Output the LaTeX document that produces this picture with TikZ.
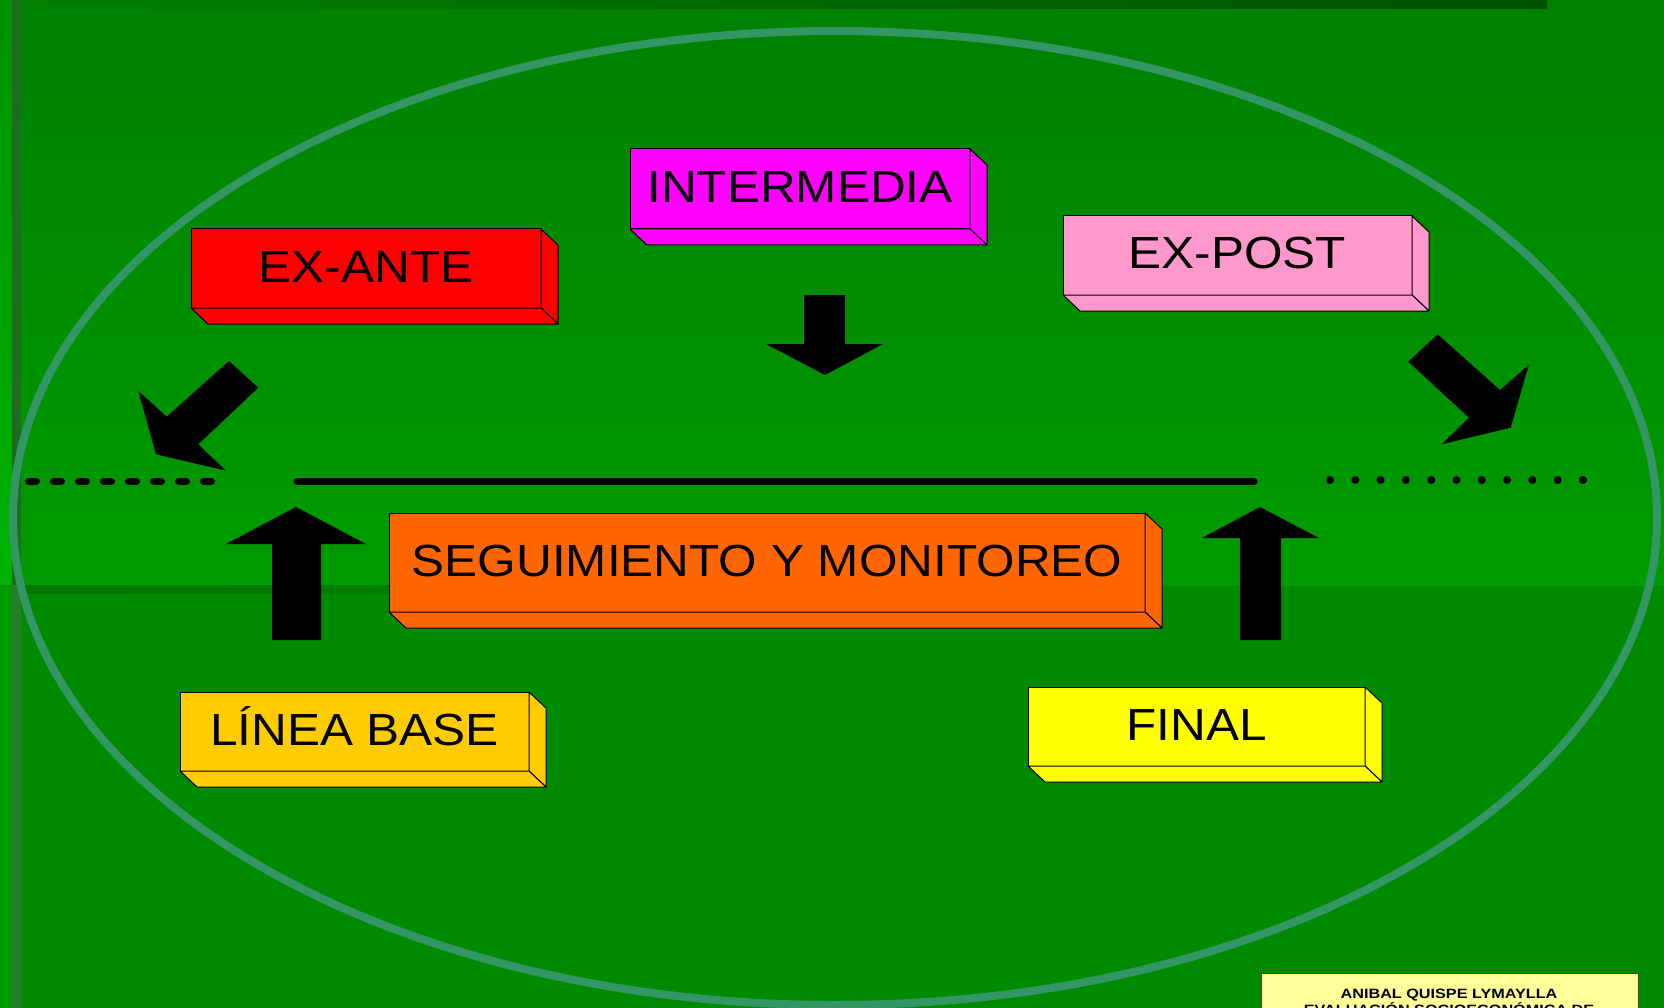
\documentclass[tikz,border=0pt]{standalone}
\usepackage{fontspec}
\setmainfont{Liberation Sans}
\newfontfamily\boxfont[FakeStretch=1.1]{Liberation Sans}
\newfontfamily\credfont[FakeStretch=1.2]{Liberation Sans}
\usetikzlibrary{calc}
\definecolor{bgtop}{RGB}{0,128,0}
\definecolor{bgmid}{RGB}{0,155,0}
\definecolor{bglow}{RGB}{0,138,0}
\definecolor{bgdark}{RGB}{0,82,0}
\definecolor{bandc}{RGB}{0,118,0}
\definecolor{stripup}{RGB}{0,180,0}
\definecolor{striplow}{RGB}{0,155,0}
\definecolor{darkup}{RGB}{30,108,30}
\definecolor{darklow}{RGB}{40,125,40}
\definecolor{ellc}{RGB}{51,150,100}
\definecolor{exante}{RGB}{255,0,0}
\definecolor{interm}{RGB}{255,0,255}
\definecolor{expost}{RGB}{255,153,204}
\definecolor{seguim}{RGB}{255,102,0}
\definecolor{lineab}{RGB}{255,204,0}
\definecolor{finalc}{RGB}{255,255,0}
\definecolor{credc}{RGB}{255,255,153}
\tikzset{
  face/.style={draw=black, line width=1pt, inner sep=0pt, outer sep=0pt},
  sideface/.style={draw=black, line width=1pt, line join=round},
  boxtext/.style={font=\boxfont\fontsize{45}{54}\selectfont, anchor=base, inner sep=0pt, text=black},
  blockarrow/.style={fill=black},
  blackline/.style={line width=7pt, line cap=round, draw=black},
  credtext/.style={font=\credfont\bfseries\fontsize{13.5}{16}\selectfont, anchor=base, inner sep=0pt, text=black},
}
% #1 name, #2 x1, #3 y1, #4 x2, #5 y2, #6 colour, #7 text
\newcommand\solidbox[7]{%
  \node[face, fill=#6, minimum width={#4-#2}, minimum height={#5-#3}] (#1) at ({(#2+#4)/2},{(#3+#5)/2}) {};
  \path (#1.south east) ++(17,16) coordinate (#1-se);
  \path (#1.north east) ++(17,16) coordinate (#1-ne);
  \path (#1.south west) ++(17,16) coordinate (#1-sw);
  \filldraw[sideface, fill=#6] (#1.north east) -- (#1-ne) -- (#1-se) -- (#1.south east) -- cycle;
  \filldraw[sideface, fill=#6] (#1.south west) -- (#1-sw) -- (#1-se) -- (#1.south east) -- cycle;
  \node[boxtext] (#1-t) at ($(#1.center)+(0,13.5)$) {#7};
}
\begin{document}
\begin{tikzpicture}[x=1pt,y=-1pt]
\clip (0,0) rectangle (1664,1008);
% background
\fill[bglow] (0,0) rectangle (1664,1008);
\shade[top color=bgtop, bottom color=bgmid] (0,0) rectangle (1664,585);
\shade[left color=bgtop, right color=bgdark] (0,0) rectangle (1547,9);
\shade[left color=bandc, right color=bglow] (0,585) rectangle (1000,593);
\shade[top color=stripup!80!black, bottom color=stripup] (0,0) rectangle (12,585);
\fill[striplow] (0,585) rectangle (12,1008);
\fill[darkup] (12,0) rectangle (21,585);
\fill[darklow] (12,585) rectangle (21,1008);
% big ellipse
\draw[ellc, line width=8pt] (835,518) ellipse [x radius=822, y radius=487];
% time line
\draw[blackline, dash pattern=on 8pt off 17pt] (28.5,481) -- (214,481);
\draw[blackline] (297,481) -- (1254,481);
\foreach \i in {0,...,10} \fill (1330+25.3*\i,480) circle [radius=4];
% block arrows
\fill[blockarrow] (804,295) -- (845,295) -- (845,344) -- (883,344) -- (825,375) -- (766,344) -- (804,344) -- cycle;
\fill[blockarrow] (272,640) -- (321,640) -- (321,544) -- (366,544) -- (296,507) -- (226,544) -- (272,544) -- cycle;
\fill[blockarrow] (1240,640) -- (1281,640) -- (1281,538) -- (1319,538) -- (1260,507) -- (1202,538) -- (1240,538) -- cycle;
\fill[blockarrow] (229,361) -- (258.3,387.7) -- (198.3,444.3) -- (226,470.7) -- (156,454.3) -- (138.3,391) -- (166.7,416.7) -- cycle;
\fill[blockarrow] (1437.7,334.3) -- (1500,390) -- (1528.7,365) -- (1510.7,427.7) -- (1441.7,444.3) -- (1469,417.7) -- (1408.3,361.7) -- cycle;
% boxes
\solidbox{exante}{191}{229}{541}{308}{exante}{EX-ANTE}
\solidbox{interm}{630}{149}{970}{229}{interm}{INTERMEDIA}
\solidbox{expost}{1063}{216}{1412}{295}{expost}{EX-POST}
\solidbox{seguim}{389}{513}{1145}{612}{seguim}{SEGUIMIENTO Y MONITOREO}
\solidbox{lineab}{180}{692}{529}{771}{lineab}{LÍNEA BASE}
\solidbox{finalc}{1028}{687}{1365}{766}{finalc}{FINAL}
% credit box
\filldraw[fill=credc, draw=black!75, line width=1pt] (1261,973) rectangle (1638,1040);
\node[credtext] (cred1) at (1449,998.7) {ANIBAL QUISPE LYMAYLLA};
\node[credtext] (cred2) at (1449,1014) {EVALUACIÓN SOCIOECONÓMICA DE};
\end{tikzpicture}
\end{document}
